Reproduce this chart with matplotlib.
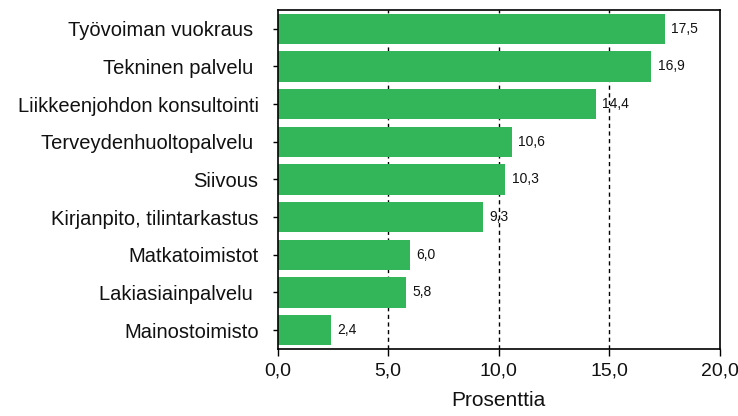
import matplotlib
matplotlib.use("Agg")
import matplotlib.pyplot as plt

categories = ["Työvoiman vuokraus ", "Tekninen palvelu ", "Liikkeenjohdon konsultointi",
              "Terveydenhuoltopalvelu ", "Siivous", "Kirjanpito, tilintarkastus",
              "Matkatoimistot", "Lakiasiainpalvelu ", "Mainostoimisto"]
values = [17.5, 16.9, 14.4, 10.6, 10.3, 9.3, 6.0, 5.8, 2.4]
xticks = [0, 5, 10, 15, 20]
xticklabels = ["0,0", "5,0", "10,0", "15,0", "20,0"]

plt.rcParams['font.family'] = ['Liberation Sans', 'DejaVu Sans']

fig = plt.figure(figsize=(7.38, 4.16), dpi=100)
ax = fig.add_axes([277.5/738, 1-349/416, (720-277.5)/738, (349-10)/416])

ys = list(range(len(categories)))
ax.barh(ys, values, height=0.8, color='#33b55a', zorder=2)
for y, v in zip(ys, values):
    ax.text(v + 0.28, y, f"{v:.1f}".replace('.', ','), va='center', ha='left',
            fontsize=10, color='#111111', zorder=3)

ax.set_ylim(len(categories) - 0.5, -0.5)
ax.set_xlim(0, 20)
ax.set_yticks(ys)
ax.set_yticklabels(categories, fontsize=14.5, color='#111111')
ax.set_xticks(xticks)
ax.set_xticklabels(xticklabels, fontsize=14, color='#111111')
ax.set_xlabel("Prosenttia", fontsize=15, labelpad=8, color='#111111')
ax.tick_params(axis='x', direction='out', length=5, width=1, color='black', pad=5)
ax.tick_params(axis='y', direction='out', length=3.6, width=1, color='black', pad=10)
for x in [5, 10, 15]:
    ax.axvline(x, color='black', linestyle=(0, (3, 2.5)), linewidth=1, zorder=1)
for s in ax.spines.values():
    s.set_linewidth(1.2)

fig.savefig("out.png", dpi=100)
